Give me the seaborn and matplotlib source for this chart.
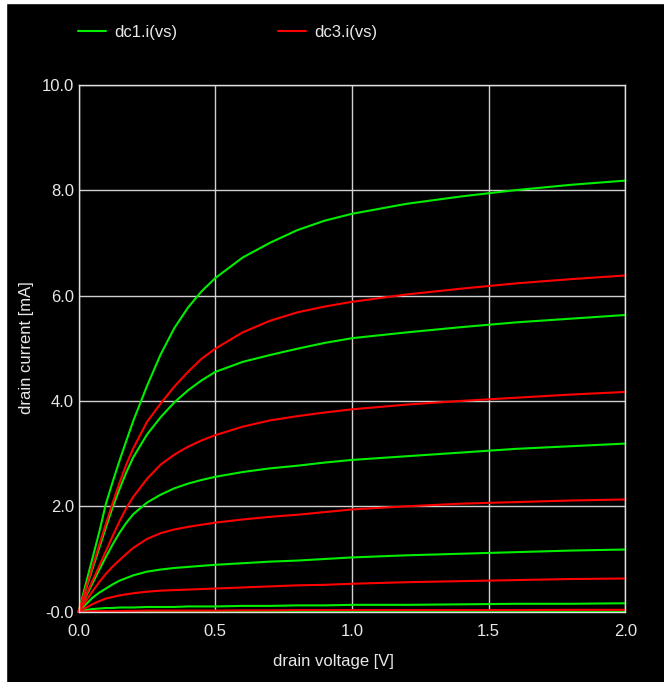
# Libraries
# =====================================================================
import pandas as pd
import seaborn as sns
import matplotlib.pyplot as plt
from matplotlib.patches import Rectangle

# Data
# =====================================================================
vds = [0, 0.025, 0.05, 0.075, 0.1, 0.125, 0.15, 0.175, 0.2, 0.25, 0.3, 0.35, 0.4, 0.45, 0.5,
       0.6, 0.7, 0.8, 0.9, 1.0, 1.2, 1.4, 1.6, 1.8, 2.0]

# dc1 sweep (green)
g1 = [0, 0.5, 1.0, 1.5, 2.05, 2.47, 2.87, 3.25, 3.62, 4.28, 4.88, 5.38, 5.77, 6.08, 6.33,
      6.72, 7.0, 7.24, 7.42, 7.55, 7.74, 7.88, 8.0, 8.1, 8.18]
g2 = [0, 0.4, 0.8, 1.2, 1.6, 1.99, 2.33, 2.65, 2.93, 3.36, 3.69, 3.97, 4.2, 4.39, 4.55,
      4.74, 4.87, 4.99, 5.1, 5.19, 5.3, 5.4, 5.49, 5.56, 5.63]
g3 = [0, 0.27, 0.53, 0.79, 1.04, 1.28, 1.5, 1.69, 1.85, 2.07, 2.22, 2.34, 2.43, 2.5, 2.56,
      2.65, 2.72, 2.77, 2.83, 2.88, 2.95, 3.02, 3.09, 3.14, 3.19]
g4 = [0, 0.13, 0.26, 0.36, 0.44, 0.52, 0.59, 0.64, 0.69, 0.76, 0.8, 0.83, 0.85, 0.87, 0.89,
      0.92, 0.95, 0.97, 1.0, 1.03, 1.07, 1.1, 1.13, 1.16, 1.18]
g5 = [0, 0.03, 0.05, 0.06, 0.07, 0.07, 0.08, 0.08, 0.08, 0.09, 0.09, 0.09, 0.1, 0.1, 0.1,
      0.11, 0.11, 0.12, 0.12, 0.13, 0.13, 0.14, 0.15, 0.15, 0.16]
g6 = [0, 0, 0, 0, 0, 0, 0, 0, 0, 0, 0, 0, 0, 0, 0, 0, 0, 0, 0, 0, 0, 0, 0, 0, 0]

# dc3 sweep (red)
r1 = [0, 0.42, 0.84, 1.26, 1.67, 2.07, 2.45, 2.8, 3.1, 3.6, 3.95, 4.27, 4.55, 4.8, 4.99,
      5.3, 5.52, 5.68, 5.79, 5.88, 6.02, 6.13, 6.23, 6.31, 6.38]
r2 = [0, 0.29, 0.58, 0.86, 1.15, 1.44, 1.72, 1.97, 2.18, 2.52, 2.79, 2.98, 3.13, 3.25, 3.35,
      3.51, 3.63, 3.71, 3.78, 3.84, 3.93, 4.0, 4.06, 4.12, 4.17]
r3 = [0, 0.19, 0.38, 0.56, 0.72, 0.86, 0.98, 1.1, 1.21, 1.38, 1.49, 1.56, 1.61, 1.65, 1.69,
      1.75, 1.8, 1.84, 1.89, 1.94, 2.0, 2.05, 2.08, 2.11, 2.13]
r4 = [0, 0.07, 0.14, 0.2, 0.25, 0.28, 0.31, 0.33, 0.35, 0.38, 0.4, 0.41, 0.42, 0.43, 0.44,
      0.46, 0.48, 0.5, 0.51, 0.53, 0.56, 0.58, 0.6, 0.62, 0.63]
r5 = [0, 0.005, 0.01, 0.01, 0.01, 0.01, 0.01, 0.015, 0.015, 0.02, 0.02, 0.02, 0.02, 0.02, 0.02,
      0.025, 0.025, 0.03, 0.03, 0.03, 0.03, 0.03, 0.03, 0.035, 0.035]

series_names = ['dc1.i(vs)', 'dc3.i(vs)']
xticks = [0.0, 0.5, 1.0, 1.5, 2.0]
xtick_labels = ['0.0', '0.5', '1.0', '1.5', '2.0']
yticks = [0, 2, 4, 6, 8, 10]
ytick_labels = ['-0.0', '2.0', '4.0', '6.0', '8.0', '10.0']

# Long dataframe
# =====================================================================
frames = []
for name, curves in zip(series_names, [[g1, g2, g3, g4, g5, g6], [r1, r2, r3, r4, r5]]):
    for k, ids in enumerate(curves):
        frames.append(pd.DataFrame({'vds': vds, 'ids': ids, 'series': name, 'curve': f'{name}_{k}'}))
df = pd.concat(frames, ignore_index=True)

# Data Visualization
# =====================================================================
sns.set_style('dark', rc={'axes.facecolor': 'black', 'figure.facecolor': 'black'})
plt.rcParams['font.family'] = ['Liberation Sans', 'DejaVu Sans']

W, H = 664, 682
fig = plt.figure(figsize=(W / 100, H / 100), dpi=100, facecolor='black')
ax = fig.add_axes([78.6 / W, 1 - 611.7 / H, (625.3 - 78.6) / W, (611.7 - 84.7) / H])

palette = {'dc1.i(vs)': '#00ee00', 'dc3.i(vs)': '#ff0000'}
sns.lineplot(data=df, x='vds', y='ids', hue='series', units='curve', estimator=None,
             sort=False, palette=palette, linewidth=1.5, ax=ax)
for line in ax.lines:
    line.set_clip_on(False)

# Axes and grid
ax.set_xlim(0, 2)
ax.set_ylim(0, 10)
ax.set_xticks(xticks)
ax.set_xticklabels(xtick_labels)
ax.set_yticks(yticks)
ax.set_yticklabels(ytick_labels)
ax.tick_params(axis='both', length=0, labelsize=12, labelcolor='#e8e8e8')
ax.tick_params(axis='x', pad=9)
ax.tick_params(axis='y', pad=3.3)
ax.grid(True, color='#d0d0d0', linewidth=1)
ax.set_axisbelow(True)
for s in ax.spines.values():
    s.set_color('#e0e0e0')
    s.set_linewidth(1)
ax.set_xlabel('')
ax.set_ylabel('')

# Axis labels
fig.text(333 / W, 1 - 661.5 / H, 'drain voltage [V]', ha='center', va='center', fontsize=12, color='#e8e8e8')
fig.text(26 / W, 1 - 348 / H, 'drain current [mA]', ha='center', va='center', rotation=90,
         fontsize=12, color='#e8e8e8')

# Legend on top
handles, labels = ax.get_legend_handles_labels()
ax.legend(handles, labels, loc='center left', bbox_to_anchor=(78 / W, 1 - 32 / H),
          bbox_transform=fig.transFigure, ncol=2, frameon=False, borderpad=0, borderaxespad=0,
          handlelength=1.7, handletextpad=0.5, columnspacing=6.0, fontsize=12, labelcolor='#e8e8e8')

# White screenshot margin on left and top
fig.add_artist(Rectangle((0, 0), 6 / W, 1, transform=fig.transFigure, color='white', zorder=-1))
fig.add_artist(Rectangle((0, 1 - 3 / H), 1, 3 / H, transform=fig.transFigure, color='white', zorder=-1))

fig.savefig('out.png', dpi=100, facecolor=fig.get_facecolor())
